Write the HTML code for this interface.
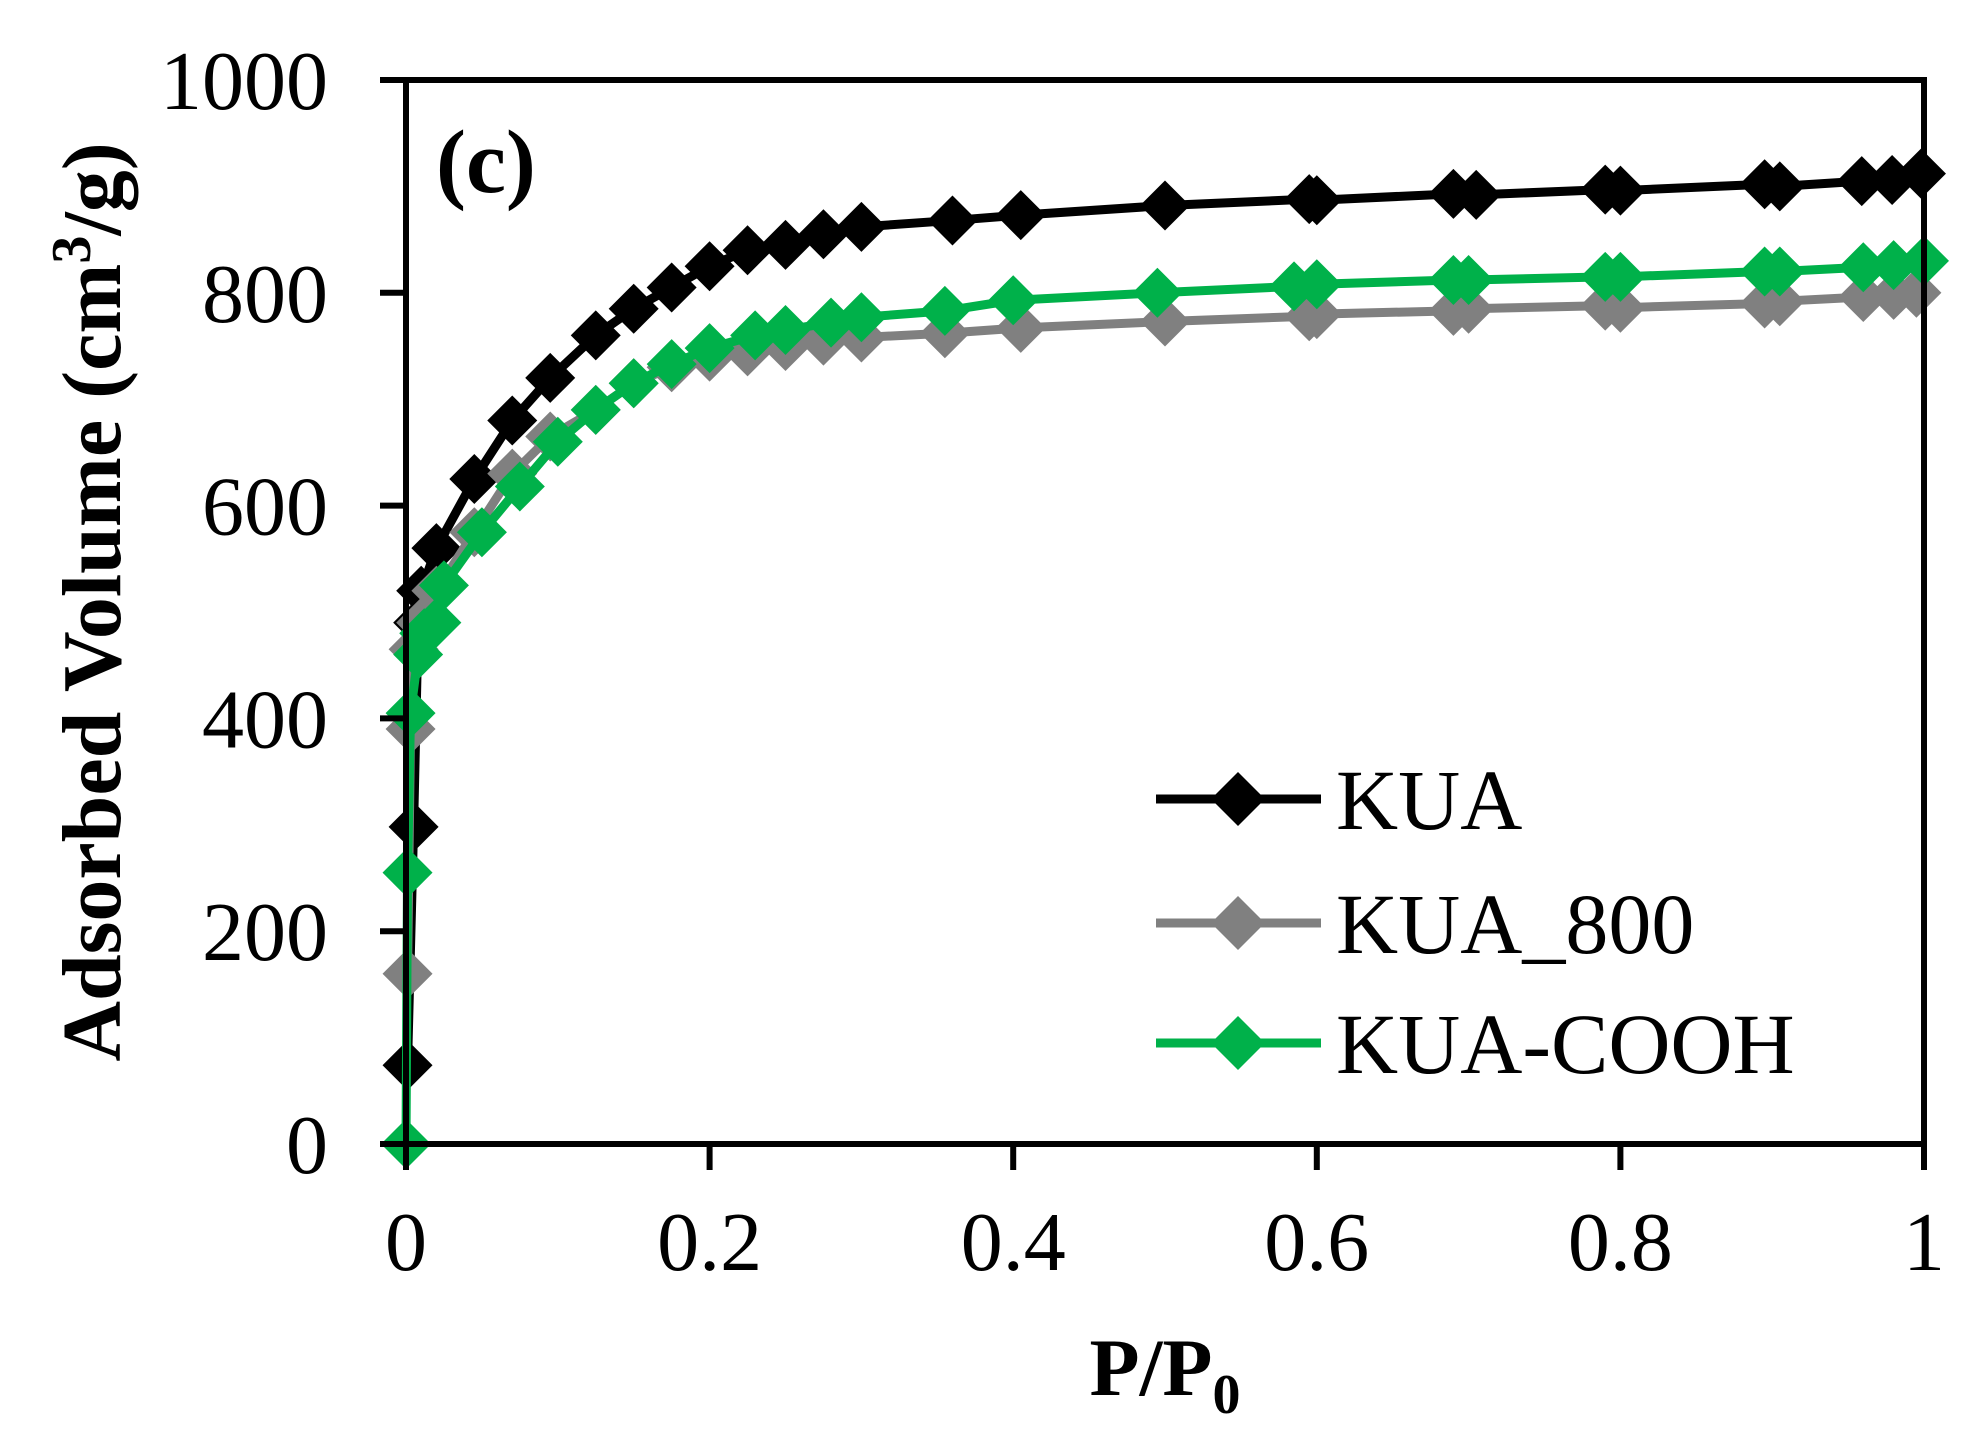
<!DOCTYPE html>
<html><head><meta charset="utf-8"><style>
html,body{margin:0;padding:0;background:#fff}
svg{display:block}
text{font-family:"Liberation Serif","Times New Roman",serif}
</style></head><body>
<svg id="chart" width="1964" height="1453" viewBox="0 0 1964 1453">
<g id="marks"></g>
<rect x="406" y="80" width="1518" height="1064" fill="none" stroke="#000" stroke-width="6"/>
<g id="axes"></g>
<text x="436" y="192" font-size="90" font-weight="bold">(c)</text>
<text transform="translate(120,602) rotate(-90)" text-anchor="middle" font-size="84" font-weight="bold">Adsorbed Volume (cm<tspan dy="-30" font-size="56">3</tspan><tspan dy="30">/g)</tspan></text>
<text x="1165" y="1395" text-anchor="middle" font-size="82" font-weight="bold">P/P<tspan dy="18" font-size="56">0</tspan></text>
<g id="legend"></g>
</svg>
<script>
const kuaX=[0.001,0.005,0.008,0.01,0.02,0.045,0.07,0.095,0.125,0.15,0.175,0.2,0.225,0.25,0.275,0.3,0.36,0.405,0.5,0.595,0.6,0.69,0.705,0.79,0.8,0.895,0.905,0.959,0.979,0.998];
const kuaY=[74,298,490,520,560,625,680,720,760,785,805,825,840,845,855,862,868,873,882,888,887,893,892,897,896,902,900,905,906,912];
const k800X=[0.001,0.003,0.005,0.01,0.02,0.045,0.07,0.095,0.125,0.15,0.175,0.2,0.225,0.25,0.275,0.3,0.355,0.405,0.5,0.595,0.6,0.69,0.7,0.79,0.8,0.895,0.905,0.96,0.98,0.995];
const k800Y=[160,390,465,490,520,575,630,665,690,715,730,740,745,750,755,758,762,767,773,778,780,783,785,788,786,790,792,796,798,800];
const coohX=[0,0.001,0.003,0.008,0.012,0.02,0.025,0.05,0.075,0.1,0.125,0.15,0.175,0.2,0.23,0.25,0.28,0.3,0.355,0.4,0.495,0.585,0.6,0.69,0.7,0.79,0.8,0.895,0.905,0.96,0.98,1.0];
const coohY=[0,255,405,460,480,490,525,575,618,660,690,715,733,748,760,765,772,777,783,793,800,806,808,812,812,815,815,820,820,824,826,830];
const xTicks=[0,0.2,0.4,0.6,0.8,1];
const xTickLabels=["0","0.2","0.4","0.6","0.8","1"];
const yTicks=[0,200,400,600,800,1000];
const yTickLabels=["0","200","400","600","800","1000"];
const seriesNames=["KUA","KUA_800","KUA-COOH"];
const seriesColors=["#000000","#808080","#00b14a"];
const NS="http://www.w3.org/2000/svg";
const X=v=>406+v*1518;
const Y=v=>1144-v*1.064;
function mk(t,a,p){const e=document.createElementNS(NS,t);for(const k in a)e.setAttribute(k,a[k]);p.appendChild(e);return e;}
const marks=document.getElementById('marks'),axes=document.getElementById('axes'),leg=document.getElementById('legend');
function diamond(cx,cy,r){return `M${cx},${cy-r}L${cx+r},${cy}L${cx},${cy+r}L${cx-r},${cy}Z`;}
const series=[[kuaX,kuaY],[k800X,k800Y],[coohX,coohY]];
[0,1,2].forEach(i=>{
  const [xs,ys]=series[i];const g=mk('g',{},marks);
  
  
  const pl=mk('polyline',{points:xs.map((x,j)=>X(x)+','+Y(ys[j])).join(' '),fill:'none',stroke:seriesColors[i],'stroke-width':9,'stroke-linejoin':'round'},g);
  
  
  xs.forEach((x,j)=>{const p=mk('path',{d:diamond(X(x),Y(ys[j]),25),fill:seriesColors[i]},g);
    
    });
});
yTicks.forEach((v,i)=>{
  const l=mk('line',{x1:380,x2:406,y1:Y(v),y2:Y(v),stroke:'#000','stroke-width':6},axes);
  
  
  const t=mk('text',{x:328,y:Y(v)+29,'text-anchor':'end','font-size':84},axes);t.textContent=yTickLabels[i];
  
  
});
xTicks.forEach((v,i)=>{
  const l=mk('line',{x1:X(v),x2:X(v),y1:1144,y2:1170,stroke:'#000','stroke-width':6},axes);
  
  
  const t=mk('text',{x:X(v),y:1270,'text-anchor':'middle','font-size':84},axes);t.textContent=xTickLabels[i];
  
  
});
const legY=[799,923,1043];
seriesNames.forEach((n,i)=>{
  const g=mk('g',{},leg);
  
  
  mk('line',{x1:1156,x2:1321,y1:legY[i],y2:legY[i],stroke:seriesColors[i],'stroke-width':9},g);
  mk('path',{d:diamond(1238,legY[i],27),fill:seriesColors[i]},g);
  const t=mk('text',{x:1336,y:legY[i]+30,'font-size':86},g);t.textContent=n;
});
</script>
</body></html>
